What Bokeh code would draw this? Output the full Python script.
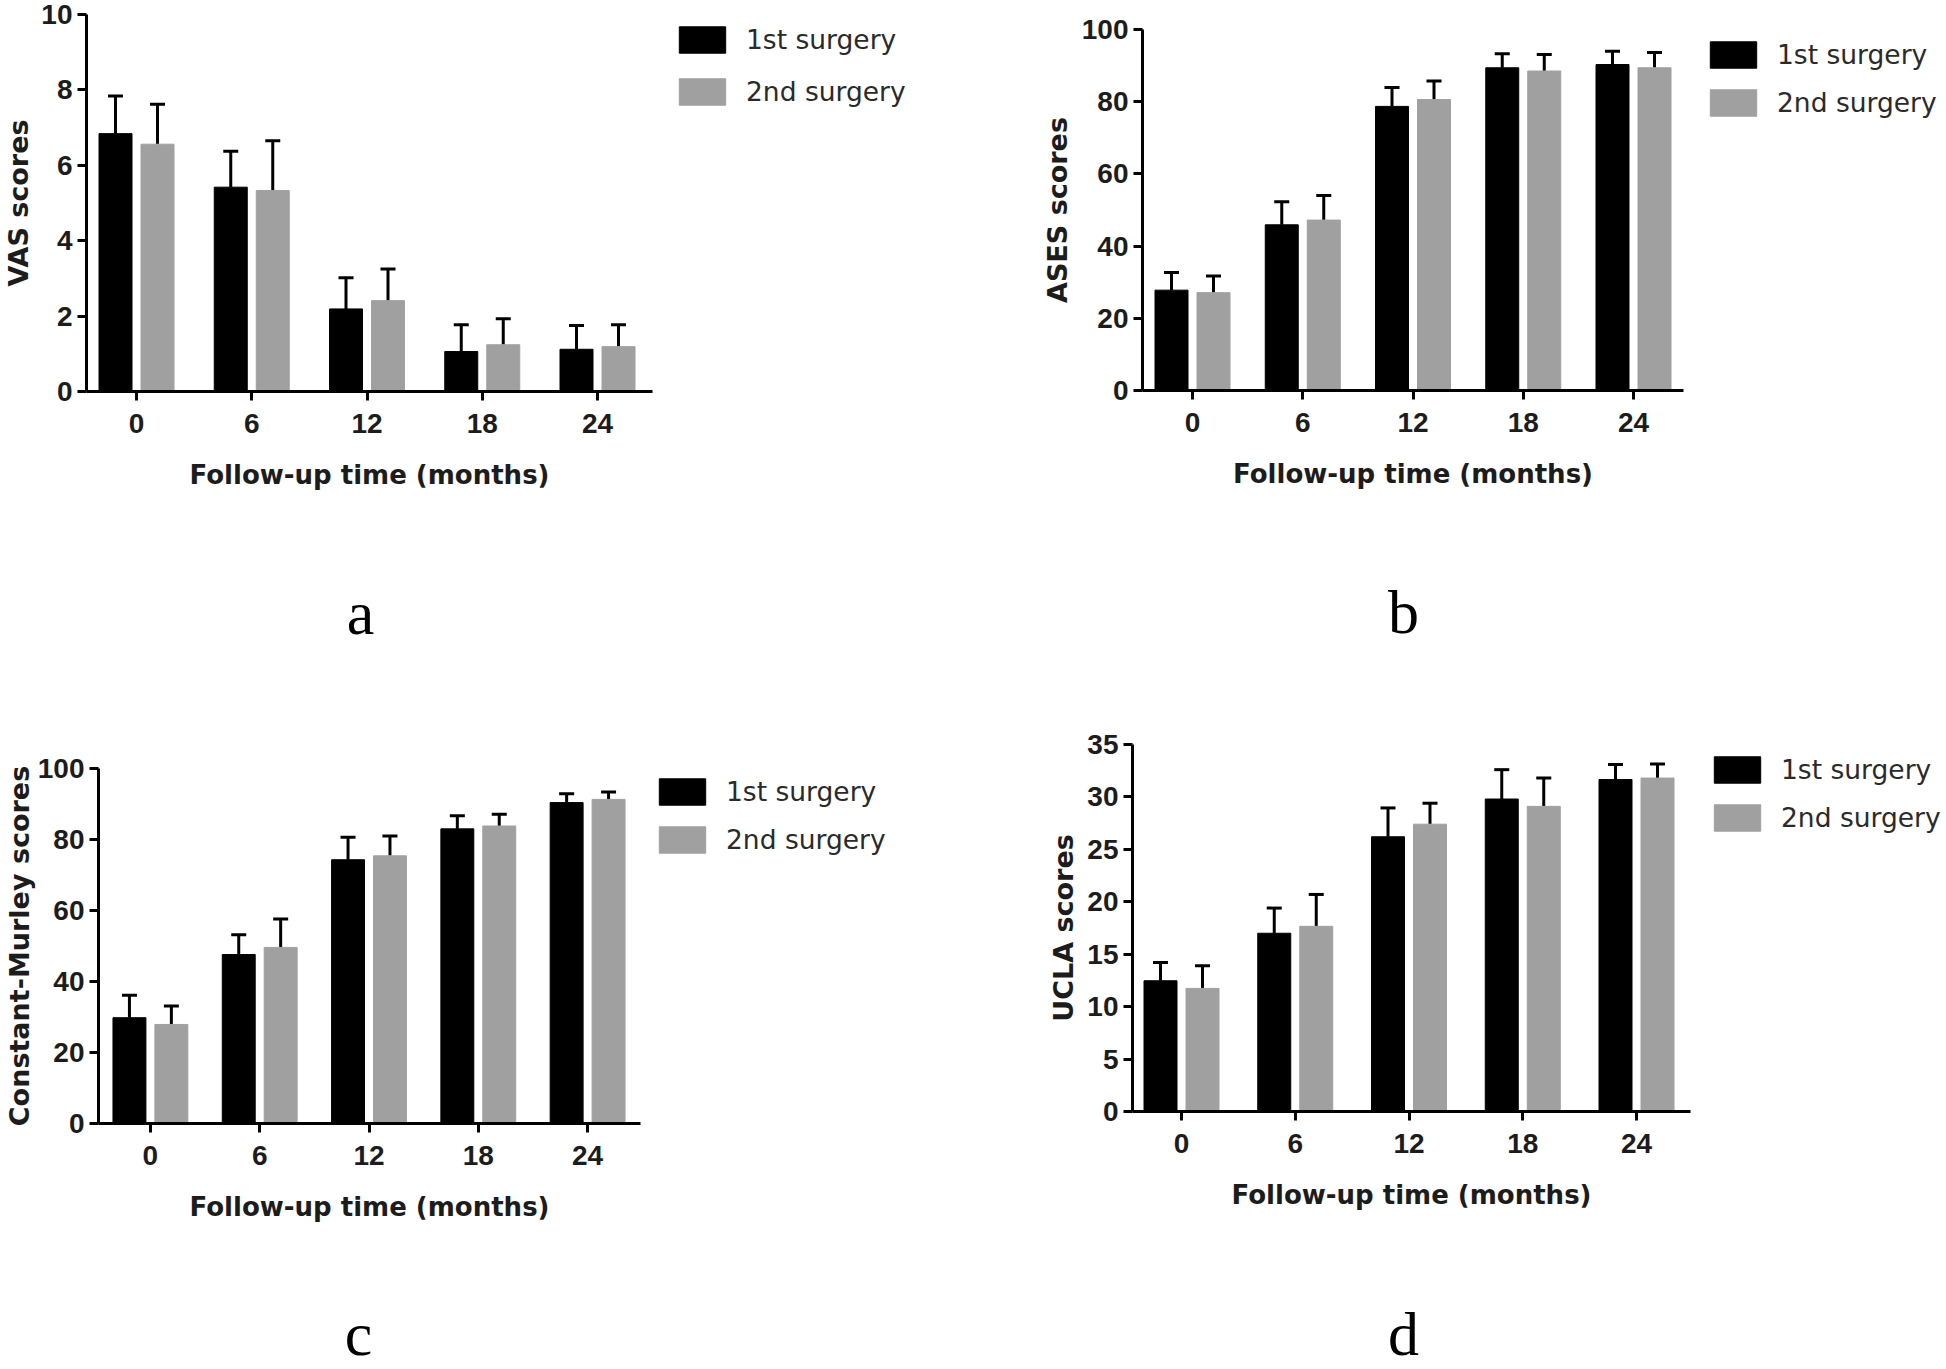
from bokeh.plotting import figure
from bokeh.models import (Range1d, FixedTicker, Whisker, TeeHead, ColumnDataSource, Label,
                          Legend, LegendItem)
from bokeh.layouts import column, row
from bokeh.embed import file_html
from bokeh.resources import INLINE

# ---------------- data ----------------
months = [0, 6, 12, 18, 24]
series_names = ["1st surgery", "2nd surgery"]
x_title = "Follow-up time (months)"
panel_letters = ["a", "b", "c", "d"]

vas_1st = [6.84, 5.42, 2.19, 1.06, 1.12]
vas_1st_sd = [1.00, 0.95, 0.83, 0.71, 0.63]
vas_2nd = [6.56, 5.33, 2.41, 1.24, 1.19]
vas_2nd_sd = [1.06, 1.32, 0.84, 0.69, 0.58]
vas_ticks = [0, 2, 4, 6, 8, 10]

ases_1st = [27.8, 45.9, 78.7, 89.4, 90.3]
ases_1st_sd = [4.9, 6.4, 5.2, 3.9, 3.7]
ases_2nd = [27.1, 47.2, 80.6, 88.5, 89.4]
ases_2nd_sd = [4.6, 6.8, 5.1, 4.6, 4.2]
ases_ticks = [0, 20, 40, 60, 80, 100]

cm_1st = [29.8, 47.6, 74.3, 83.0, 90.4]
cm_1st_sd = [6.3, 5.6, 6.3, 3.7, 2.5]
cm_2nd = [27.9, 49.6, 75.4, 83.8, 91.3]
cm_2nd_sd = [5.2, 8.0, 5.6, 3.3, 2.1]
cm_ticks = [0, 20, 40, 60, 80, 100]

ucla_1st = [12.47, 17.0, 26.2, 29.8, 31.66]
ucla_1st_sd = [1.75, 2.4, 2.75, 2.8, 1.44]
ucla_2nd = [11.74, 17.66, 27.4, 29.1, 31.8]
ucla_2nd_sd = [2.16, 3.04, 2.0, 2.7, 1.35]
ucla_ticks = [0, 5, 10, 15, 20, 25, 30, 35]

GRAY = "#a0a0a0"
TXT = "#1c1c1c"


def panel(width, height, frame, x0px, x24px, ylim, yticks, ylabel,
          m1, s1, m2, s2, ylab_standoff):
    left, right, top, bottom = frame
    ppm = (x24px - x0px) / 24.0
    xs = -(x0px - left) / ppm
    xe = 24 + (right - x24px) / ppm
    p = figure(width=width, height=height, output_backend="svg", toolbar_location=None,
               x_range=Range1d(xs, xe), y_range=Range1d(*ylim),
               min_border_left=left, min_border_right=width - right,
               min_border_top=top, min_border_bottom=height - bottom)
    p.frame_align = False
    p.outline_line_color = None
    p.xgrid.visible = False
    p.ygrid.visible = False

    off = 21.0 / ppm
    bw = 33.0 / ppm
    x1 = [m - off for m in months]
    x2 = [m + off for m in months]
    p.vbar(x=x1, top=m1, bottom=0, width=bw, fill_color="black", line_color="black")
    p.vbar(x=x2, top=m2, bottom=0, width=bw, fill_color=GRAY, line_color=GRAY)

    src = ColumnDataSource(dict(base=x1 + x2, lower=list(m1) + list(m2),
                                upper=[a + b for a, b in zip(m1, s1)] + [a + b for a, b in zip(m2, s2)]))
    w = Whisker(source=src, base="base", lower="lower", upper="upper",
                line_width=3, line_color="black", lower_head=None,
                upper_head=TeeHead(size=15, line_width=3, line_color="black"))
    p.add_layout(w)

    p.xaxis.ticker = FixedTicker(ticks=months)
    p.yaxis.ticker = FixedTicker(ticks=yticks)
    for ax in (p.xaxis[0], p.yaxis[0]):
        ax.axis_line_width = 3
        ax.axis_line_color = "black"
        ax.major_tick_line_width = 3
        ax.major_tick_line_color = "black"
        ax.major_tick_in = 0
        ax.major_tick_out = 9
        ax.minor_tick_line_color = None
        ax.major_label_text_font = "Liberation Sans"
        ax.major_label_text_font_style = "bold"
        ax.major_label_text_font_size = "28px"
        ax.major_label_text_color = TXT
        ax.axis_label_text_font = "DejaVu Sans"
        ax.axis_label_text_font_style = "bold"
        ax.axis_label_text_color = TXT
    p.xaxis.major_label_standoff = 13
    p.yaxis.major_label_standoff = 5
    p.xaxis.axis_label = x_title
    p.xaxis.axis_label_text_font_size = "26px"
    p.xaxis.axis_label_standoff = 24
    p.yaxis.axis_label = ylabel
    p.yaxis.axis_label_text_font_size = "27px"
    p.yaxis.axis_label_standoff = ylab_standoff
    return p


def legend_fig(width, height, loc, spacing, m1, m2):
    # legend lives in its own plot; its key glyphs reuse the panel's series,
    # drawn outside this plot's visible range so only the legend shows
    f = figure(width=width, height=height, output_backend="svg", toolbar_location=None,
               x_range=Range1d(-1000, -999), y_range=Range1d(-1000, -999), min_border=0,
               x_axis_location=None, y_axis_location=None)
    f.frame_align = False
    f.outline_line_color = None
    f.grid.visible = False
    k1 = f.vbar(x=months, top=m1, width=1, fill_color="black", line_color="black")
    k2 = f.vbar(x=months, top=m2, width=1, fill_color=GRAY, line_color=GRAY)
    leg = Legend(items=[LegendItem(label=series_names[0], renderers=[k1]),
                        LegendItem(label=series_names[1], renderers=[k2])],
                 location=loc, orientation="vertical", margin=0, padding=0,
                 spacing=spacing, glyph_width=58, glyph_height=33, label_height=33,
                 label_standoff=15, border_line_alpha=0, background_fill_alpha=0,
                 label_text_font="DejaVu Sans", label_text_font_size="26.5px",
                 label_text_color="#2a2a2a")
    f.add_layout(leg)
    return f


def letter_fig(width, height, text, x, y):
    f = figure(width=width, height=height, output_backend="svg", toolbar_location=None,
               x_range=Range1d(0, 1), y_range=Range1d(0, 1), min_border=0,
               x_axis_location=None, y_axis_location=None)
    f.frame_align = False
    f.outline_line_color = None
    f.grid.visible = False
    f.add_layout(Label(x=x, y=y, x_units="screen", y_units="screen", text=text,
                       text_font="Liberation Serif", text_font_size="62px",
                       text_align="center", text_baseline="middle", text_color="black"))
    return f


pa = panel(660, 520, (86, 652, 14, 391), 136, 597, (0, 10), vas_ticks, "VAS scores",
           vas_1st, vas_1st_sd, vas_2nd, vas_2nd_sd, 4)
ga = legend_fig(320, 520, (13, 412), 19, vas_1st, vas_2nd)
pb = panel(710, 520, (162, 703, 29, 390), 1192 - 980, 1633 - 980, (0, 100), ases_ticks, "ASES scores",
           ases_1st, ases_1st_sd, ases_2nd, ases_2nd_sd, 6)
gb = legend_fig(256, 520, (14, 401), 15, ases_1st, ases_2nd)
pc = panel(648, 560, (97, 640, 78, 433), 149, 587, (0, 100), cm_ticks, "Constant-Murley scores",
           cm_1st, cm_1st_sd, cm_2nd, cm_2nd_sd, 0)
gc = legend_fig(332, 560, (5, 394), 15, cm_1st, cm_2nd)
pd = panel(718, 560, (152, 710, 54, 421), 1181 - 980, 1636 - 980, (0, 35), ucla_ticks, "UCLA scores",
           ucla_1st, ucla_1st_sd, ucla_2nd, ucla_2nd_sd, 5)
gd = legend_fig(248, 560, (10, 416), 15, ucla_1st, ucla_2nd)

la = letter_fig(980, 170, panel_letters[0], 360, 78)
lb = letter_fig(966, 170, panel_letters[1], 423, 79)
lc = letter_fig(980, 119, panel_letters[2], 358, 36)
ld = letter_fig(966, 119, panel_letters[3], 423, 36)

layout = column(row(pa, ga, pb, gb), row(la, lb), row(pc, gc, pd, gd), row(lc, ld))

open("out.html", "w").write(file_html(layout, INLINE))
